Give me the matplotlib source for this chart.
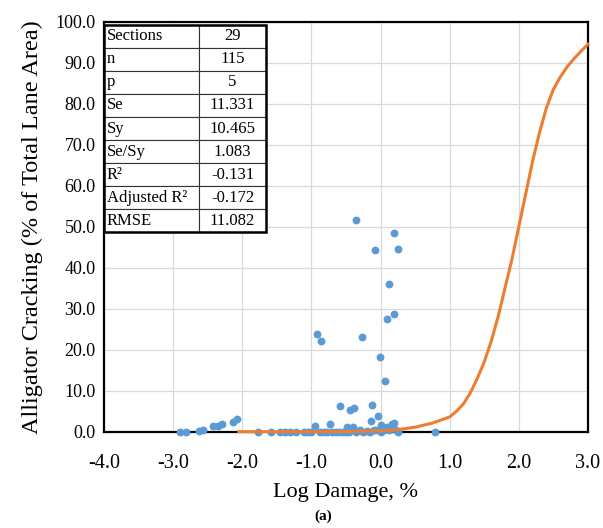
import matplotlib
matplotlib.use("Agg")
import matplotlib.pyplot as plt

# observed sections: log damage (%) vs alligator cracking (% lane area)
log_damage = [
    -2.90, -2.82, -2.63, -2.57, -2.42, -2.35, -2.29, -2.14, -2.07,
    -1.77, -1.59, -1.45, -1.38, -1.31, -1.22, -1.10, -1.05, -1.00, -0.95,
    -0.88, -0.82, -0.78, -0.73, -0.70, -0.65, -0.60, -0.55, -0.50, -0.47,
    -0.45, -0.40, -0.35, -0.30, -0.25, -0.20, -0.15, -0.10, -0.06, -0.03,
    0.00, 0.01, 0.05, 0.09, 0.12, 0.16, 0.19, 0.22, 0.25, 0.79,
    -0.49, -0.14, -0.58, -0.44, -0.38, -0.12, 0.07, -0.01,
    -0.92, -0.86, -0.27, 0.10, 0.20, 0.12, -0.08, 0.25, 0.20, -0.35,
]
cracking = [
    0.0, 0.0, 0.1, 0.5, 1.3, 1.5, 1.8, 2.3, 3.0,
    0.0, 0.0, 0.0, 0.0, 0.0, 0.0, 0.0, 0.0, 0.0, 1.3,
    0.0, 0.0, 0.0, 1.9, 0.0, 0.0, 0.0, 0.0, 0.0, 1.0,
    0.0, 1.2, 0.0, 0.3, 0.0, 0.2, 0.0, 0.3, 0.4, 3.9,
    0.0, 1.6, 0.3, 1.2, 0.5, 1.9, 2.0, 0.4, 0.0, 0.0,
    1.2, 2.7, 6.2, 5.3, 5.9, 6.5, 12.4, 18.3,
    23.8, 22.2, 23.2, 27.4, 28.6, 36.0, 44.4, 44.6, 48.4, 51.6,
]

# transfer function curve
curve_x = [-2.05, -1.5, -1.0, -0.5, 0.0, 0.25, 0.5, 0.75, 1.0, 1.1, 1.2, 1.3,
           1.4, 1.5, 1.6, 1.7, 1.8, 1.9, 2.0, 2.1, 2.2, 2.3, 2.4, 2.5, 2.6,
           2.7, 2.8, 2.9, 3.0]
curve_y = [0.0, 0.0, 0.0, 0.05, 0.2, 0.5, 1.1, 2.1, 3.6, 5.0, 6.8, 9.5,
           13.0, 17.0, 22.0, 28.0, 35.0, 42.0, 50.0, 58.0, 66.0, 73.0, 79.0,
           83.5, 86.5, 89.0, 91.0, 92.8, 94.5]

stat_names = ["Sections", "n", "p", "Se", "Sy", "Se/Sy", "R²", "Adjusted R²", "RMSE"]
stat_values = ["29", "115", "5", "11.331", "10.465", "1.083", "-0.131", "-0.172", "11.082"]

x_ticks = [-4.0, -3.0, -2.0, -1.0, 0.0, 1.0, 2.0, 3.0]
y_ticks = [0, 10, 20, 30, 40, 50, 60, 70, 80, 90, 100]

plt.rcParams["font.family"] = ["Liberation Serif", "DejaVu Serif"]

fig = plt.figure(figsize=(6.03, 5.28), dpi=100)
ax = fig.add_axes([0.1725, 0.1824, 0.8025, 0.7765])

ax.scatter(log_damage, cracking, s=32, color="#5B9BD5", zorder=3,
           clip_on=False, linewidths=0)
ax.plot(curve_x, curve_y, color="#ED7D31", lw=2.2, zorder=4, clip_on=False)

ax.set_xlim(-4, 3)
ax.set_ylim(0, 100)
ax.set_xticks(x_ticks)
ax.set_yticks(y_ticks)
ax.xaxis.set_major_formatter(matplotlib.ticker.FormatStrFormatter("%.1f"))
ax.yaxis.set_major_formatter(matplotlib.ticker.FormatStrFormatter("%.1f"))
ax.tick_params(axis="both", length=0)
ax.tick_params(axis="x", pad=16, labelsize=14.5)
ax.tick_params(axis="y", pad=6, labelsize=13)
ax.grid(color="#d9d9d9", lw=0.9)
ax.set_axisbelow(True)
for sp in ax.spines.values():
    sp.set_linewidth(1.6)
    sp.set_color("black")

ax.set_ylabel("Alligator Cracking (% of Total Lane Area)", fontsize=17.5, labelpad=9)
fig.text(0.573, 1 - 493 / 528, "Log Damage, %", fontsize=16, ha="center", va="center")
fig.text(0.536, 1 - 516 / 528, "(a)", fontsize=11, fontweight="bold",
         ha="center", va="center")

cells = [[n, v] for n, v in zip(stat_names, stat_values)]
tbl = ax.table(cellText=cells, cellLoc="left", colWidths=[0.196, 0.139],
               bbox=[0.0, 0.487, 0.335, 0.505], zorder=5)
tbl.auto_set_font_size(False)
tbl.set_fontsize(12)
for (r, c), cell in tbl.get_celld().items():
    cell.set_linewidth(0.8)
    cell.set_edgecolor("#333333")
    cell.set_facecolor("white")
    cell.PAD = 0.03
    if c == 1:
        cell.get_text().set_ha("center")
        cell._loc = "center"
# outer border of the table
ax.add_patch(plt.Rectangle((0.0, 0.487), 0.335, 0.505, transform=ax.transAxes,
                           fill=False, lw=1.8, ec="black", zorder=6))

fig.savefig("out.png", dpi=100)
